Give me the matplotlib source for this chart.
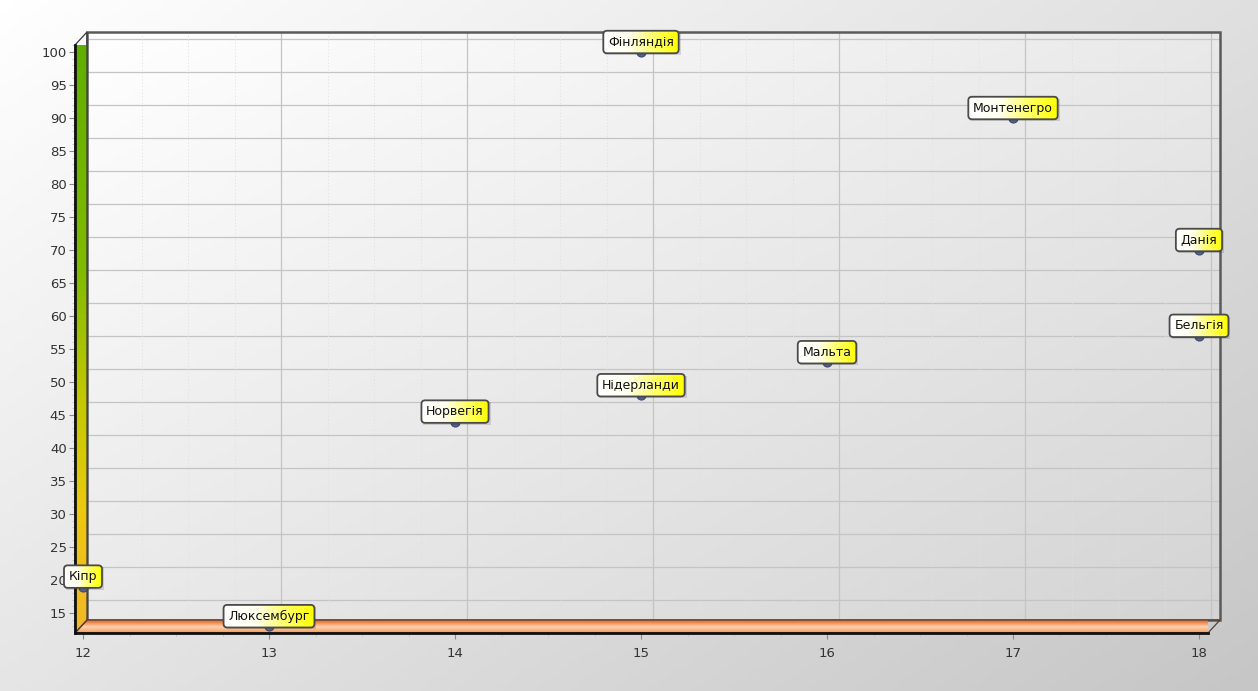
import numpy as np
import matplotlib.pyplot as plt
from matplotlib import transforms
from matplotlib.patches import Polygon, Rectangle
from matplotlib.colors import LinearSegmentedColormap

# data
countries = ['Кіпр', 'Люксембург', 'Норвегія', 'Фінляндія', 'Нідерланди',
             'Мальта', 'Монтенегро', 'Данія', 'Бельгія']
x_vals = [12, 13, 14, 15, 15, 16, 17, 18, 18]
y_vals = [19, 13, 44, 100, 48, 53, 90, 70, 57]
x_ticks = [12, 13, 14, 15, 16, 17, 18]
y_ticks = [15, 20, 25, 30, 35, 40, 45, 50, 55, 60, 65, 70, 75, 80, 85, 90, 95, 100]

W, H = 1258, 691
DPI = 100
fig = plt.figure(figsize=(W / DPI, H / DPI), dpi=DPI)
plt.rcParams['font.family'] = ['DejaVu Sans']

# figure background gradient (white top-left -> grey bottom-right)
bg = fig.add_axes([0, 0, 1, 1], zorder=-10)
gx, gy = np.meshgrid(np.linspace(0, 1, 200), np.linspace(0, 1, 120))
bg_cmap = LinearSegmentedColormap.from_list('bg', ['#ffffff', '#c6c6c6'])
bg.imshow(0.55 * gx + 0.45 * gy, cmap=bg_cmap, extent=[0, 1, 0, 1], aspect='auto', origin='upper')
bg.axis('off')

# front frame in pixels
L, R, B, T = 75, 1208, 633, 45
ax = fig.add_axes([L / W, 1 - B / H, (R - L) / W, (B - T) / H])
ax.patch.set_alpha(0)
xmin = 12 - 8 / 186
xmax = xmin + (R - L) / 186
ymin = 15 - 20 / 6.6
ymax = ymin + (B - T) / 6.6

# depth offset for the back wall (pixels)
DX, DY = 12, 13
back = ax.transAxes + transforms.ScaledTranslation(DX / DPI, DY / DPI, fig.dpi_scale_trans)
back_data = ax.transData + transforms.ScaledTranslation(DX / DPI, DY / DPI, fig.dpi_scale_trans)

# back wall gradient
wall_cmap = LinearSegmentedColormap.from_list('wall', ['#ffffff', '#d4d4d4'])
ax.imshow(0.5 * gx + 0.5 * gy, cmap=wall_cmap, extent=[0, 1, 0, 1], aspect='auto',
          origin='upper', transform=back, zorder=0, clip_on=False)

# gridlines on back wall
for yv in y_ticks:
    ax.plot([xmin, xmax], [yv, yv], color='#c4c4c4', lw=0.9, transform=back_data,
            zorder=1, clip_on=False)
for xv in x_ticks[1:]:
    ax.plot([xv, xv], [ymin, ymax], color='#c4c4c4', lw=0.9, transform=back_data,
            zorder=1, clip_on=False)
for xv in np.arange(12.25, 18, 0.25):
    if abs(xv - round(xv)) > 0.01:
        ax.plot([xv, xv], [ymin, ymax], color='#e0e0e0', lw=0.6, ls=(0, (1.5, 2.5)),
                transform=back_data, zorder=1, clip_on=False)

# back wall border
ax.add_patch(Rectangle((0, 0), 1, 1, fill=False, ec='#5a5a5a', lw=1.8,
                       transform=back, zorder=2, clip_on=False))


def fig_poly(pts, **kw):
    return Polygon([(px / W, 1 - py / H) for px, py in pts], closed=True,
                   transform=fig.transFigure, **kw)


# left wall (green -> yellow -> orange)
lw_poly = fig_poly([(L, B), (L + DX, B - DY), (L + DX, T - DY), (L, T)],
                   fc='none', ec='#3a3a3a', lw=0.9, zorder=3, clip_on=False)
ax.add_patch(lw_poly)
lw_cmap = LinearSegmentedColormap.from_list(
    'lw', [(0, '#5fae00'), (0.4, '#80bc00'), (0.6, '#c0c800'), (0.8, '#ecc810'), (1, '#f2b828')])
im = ax.imshow(np.linspace(0, 1, 100).reshape(-1, 1), cmap=lw_cmap, aspect='auto',
               extent=[L / W, (L + DX) / W, 1 - B / H, 1 - (T - DY) / H],
               transform=fig.transFigure, zorder=2.5, origin='upper')
im.set_clip_box(None)
im.set_clip_path(lw_poly)

# floor (orange, tube-like shading)
fl_poly = fig_poly([(L, B), (R, B), (R + DX, B - DY), (L + DX, B - DY)],
                   fc='none', ec='#5a4030', lw=0.9, zorder=3, clip_on=False)
ax.add_patch(fl_poly)
fl_cmap = LinearSegmentedColormap.from_list(
    'fl', [(0, '#b86430'), (0.25, '#f08a50'), (0.55, '#ffd2ae'), (1, '#f59a58')])
im2 = ax.imshow(np.linspace(0, 1, 50).reshape(-1, 1), cmap=fl_cmap, aspect='auto',
                extent=[L / W, (R + DX) / W, 1 - B / H, 1 - (B - DY) / H],
                transform=fig.transFigure, zorder=2.5, origin='upper')
im2.set_clip_box(None)
im2.set_clip_path(fl_poly)

# front axis lines
for s in ['top', 'right']:
    ax.spines[s].set_visible(False)
for s in ['left', 'bottom']:
    ax.spines[s].set_color('#111111')
    ax.spines[s].set_linewidth(2)
    ax.spines[s].set_zorder(4)

ax.set_xticks(x_ticks)
ax.set_xticks(np.arange(12.25, 18.01, 0.25), minor=True)
ax.set_yticks(y_ticks)
ax.set_yticks(np.arange(13, 101.5, 1), minor=True)
ax.tick_params(axis='both', which='major', length=4, width=0.8, color='#8a8a8a',
               labelsize=9.5, labelcolor='#333333', pad=2)
ax.tick_params(axis='both', which='minor', length=2, width=0.5, color='#b8b8b8')
ax.tick_params(axis='x', which='major', pad=6)

# points
ax.plot(x_vals, y_vals, 'o', ms=6.5, mfc='#56648f', mec='#3c4670', mew=0.8,
        zorder=6, clip_on=False)

ax.set_xlim(xmin, xmax)
ax.set_ylim(ymin, ymax)

# labels live on an overlay axes in pixel units so their boxes are not clipped
ov = fig.add_axes([0, 0, 1, 1], zorder=5)
ov.set_xlim(0, W)
ov.set_ylim(0, H)
ov.axis('off')
ov.patch.set_alpha(0)

fig.canvas.draw()
renderer = fig.canvas.get_renderer()
pix = ax.transData.transform(np.column_stack([x_vals, y_vals]))
texts = []
for name, (px, py) in zip(countries, pix):
    t = ov.text(px, py + 10, name, ha='center', va='center', fontsize=9,
                color='#111111', zorder=9,
                bbox=dict(boxstyle='round,pad=0.38,rounding_size=0.3', fc='none',
                          ec='#4a4a4a', lw=1.3))
    texts.append(t)

fig.canvas.draw()
lab_cmap = LinearSegmentedColormap.from_list(
    'lab', [(0, '#ffffff'), (0.35, '#fffff0'), (0.65, '#ffff70'), (1, '#ffff00')])
for t in texts:
    bp = t.get_bbox_patch()
    bb = bp.get_window_extent(renderer)
    ov.add_patch(Rectangle((bb.x0 + 2, bb.y0 - 2), bb.width, bb.height, fc='#000000',
                           alpha=0.13, ec='none', zorder=7))
    gi = ov.imshow(np.linspace(0, 1, 100).reshape(1, -1), cmap=lab_cmap, aspect='auto',
                   extent=[bb.x0, bb.x1, bb.y0, bb.y1], zorder=8)
    gi.set_clip_path(bp)

ov.set_xlim(0, W)
ov.set_ylim(0, H)

fig.savefig('out.png', dpi=DPI)
